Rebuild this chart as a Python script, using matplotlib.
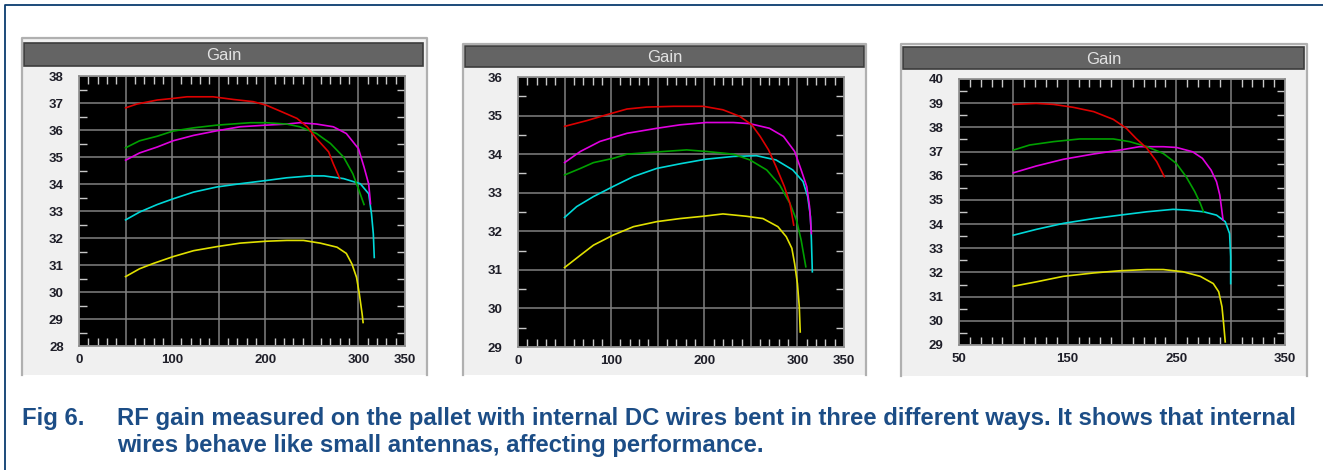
import matplotlib
matplotlib.use('Agg')
import matplotlib.pyplot as plt
from matplotlib.patches import Rectangle
from matplotlib.ticker import MultipleLocator

plt.rcParams['font.family'] = ['Liberation Sans', 'DejaVu Sans']

# ---- panel 1 (x 0..350, y 28..38) ----
p1_red_x = [50, 62, 84, 101, 116, 144, 166, 187, 201, 216, 234, 245, 255, 268, 273, 280]
p1_red_y = [36.82, 36.96, 37.11, 37.17, 37.23, 37.23, 37.13, 37.05, 36.92, 36.70, 36.43, 36.12, 35.68, 35.19, 34.75, 34.20]
p1_green_x = [50, 65, 84, 101, 123, 148, 184, 201, 223, 237, 255, 270, 284, 294, 300, 306]
p1_green_y = [35.34, 35.60, 35.77, 35.96, 36.08, 36.18, 36.27, 36.27, 36.22, 36.12, 35.87, 35.50, 35.00, 34.38, 33.82, 33.24]
p1_magenta_x = [50, 65, 84, 101, 123, 148, 173, 201, 223, 237, 255, 273, 287, 300, 306, 311, 313]
p1_magenta_y = [34.88, 35.15, 35.37, 35.60, 35.80, 35.97, 36.12, 36.18, 36.22, 36.27, 36.22, 36.12, 35.87, 35.31, 34.63, 34.00, 33.27]
p1_cyan_x = [50, 65, 84, 101, 123, 148, 173, 201, 223, 248, 263, 284, 302, 311, 314, 316, 317]
p1_cyan_y = [32.67, 32.96, 33.24, 33.45, 33.70, 33.89, 34.01, 34.13, 34.23, 34.30, 34.30, 34.20, 34.01, 33.64, 32.90, 32.15, 31.28]
p1_yellow_x = [50, 65, 80, 101, 123, 148, 173, 201, 223, 241, 259, 277, 287, 293, 298, 301, 304, 305]
p1_yellow_y = [30.57, 30.86, 31.06, 31.31, 31.53, 31.68, 31.81, 31.88, 31.91, 31.91, 31.81, 31.66, 31.43, 31.04, 30.54, 29.92, 29.18, 28.87]

# ---- panel 2 (x 0..350, y 29..36) ----
p2_red_x = [50, 74, 95, 117, 138, 167, 199, 220, 238, 251, 260, 269, 277, 286, 292, 296]
p2_red_y = [34.72, 34.87, 35.02, 35.17, 35.22, 35.24, 35.24, 35.15, 34.98, 34.76, 34.46, 34.11, 33.68, 33.16, 32.72, 32.16]
p2_magenta_x = [50, 67, 88, 117, 149, 174, 202, 231, 249, 270, 285, 297, 304, 310, 313, 315]
p2_magenta_y = [33.78, 34.07, 34.33, 34.54, 34.67, 34.76, 34.82, 34.82, 34.79, 34.67, 34.46, 34.07, 33.59, 33.16, 32.64, 31.94]
p2_green_x = [50, 67, 81, 102, 117, 145, 181, 202, 231, 249, 267, 281, 292, 299, 304, 309]
p2_green_y = [33.46, 33.63, 33.78, 33.89, 34.00, 34.05, 34.11, 34.07, 34.00, 33.85, 33.59, 33.20, 32.72, 32.29, 31.77, 31.08]
p2_cyan_x = [50, 63, 81, 102, 124, 149, 174, 202, 231, 256, 277, 295, 306, 311, 314, 315, 316]
p2_cyan_y = [32.36, 32.64, 32.90, 33.16, 33.42, 33.63, 33.75, 33.87, 33.94, 33.96, 33.85, 33.59, 33.29, 32.90, 32.38, 31.77, 30.95]
p2_yellow_x = [50, 67, 81, 102, 124, 149, 174, 199, 220, 245, 263, 279, 288, 294, 297, 300, 302, 303]
p2_yellow_y = [31.06, 31.38, 31.64, 31.90, 32.12, 32.25, 32.33, 32.39, 32.45, 32.39, 32.33, 32.12, 31.86, 31.56, 31.16, 30.64, 30.04, 29.39]

# ---- panel 3 (x 50..350, y 29..40) ----
p3_red_x = [100, 121, 137, 155, 174, 192, 204, 213, 223, 232, 239]
p3_red_y = [38.95, 38.99, 38.95, 38.83, 38.65, 38.33, 37.96, 37.54, 37.13, 36.58, 35.96]
p3_green_x = [100, 115, 137, 161, 192, 207, 223, 238, 250, 259, 267, 272, 275]
p3_green_y = [37.06, 37.27, 37.41, 37.52, 37.52, 37.41, 37.20, 36.92, 36.51, 35.96, 35.34, 34.86, 34.51]
p3_magenta_x = [100, 121, 146, 174, 198, 216, 238, 250, 265, 274, 282, 287, 290, 291, 293]
p3_magenta_y = [36.12, 36.40, 36.68, 36.90, 37.06, 37.20, 37.20, 37.17, 36.99, 36.72, 36.23, 35.75, 35.20, 34.86, 34.17]
p3_cyan_x = [100, 121, 146, 174, 198, 223, 247, 259, 275, 287, 295, 299, 300, 300]
p3_cyan_y = [33.54, 33.78, 34.03, 34.23, 34.37, 34.51, 34.61, 34.58, 34.51, 34.37, 34.10, 33.61, 32.65, 31.54]
p3_yellow_x = [100, 121, 146, 174, 198, 223, 238, 256, 272, 284, 289, 292, 293.5, 295]
p3_yellow_y = [31.43, 31.61, 31.84, 31.98, 32.07, 32.12, 32.12, 32.03, 31.84, 31.54, 31.20, 30.58, 29.89, 29.13]

COLORS = {'red': '#dd0000', 'green': '#00a000', 'magenta': '#e000e0',
          'cyan': '#00d8d8', 'yellow': '#e0e000'}

caption_1 = 'RF gain measured on the pallet with internal DC wires bent in three different ways. It shows that internal'
caption_2 = 'wires behave like small antennas, affecting performance.'

W, H = 1323, 470
fig = plt.figure(figsize=(W / 100, H / 100), dpi=100)
fig.patch.set_facecolor('white')

# background layer in pixel coordinates
bg = fig.add_axes([0, 0, 1, 1])
bg.set_xlim(0, W)
bg.set_ylim(H, 0)
bg.axis('off')

# outer blue frame (left and top)
bg.plot([5, 5, W], [H, 5, 5], color='#0b3d6f', lw=1.3)

# panel boxes: (left, top, right, bottom), title bar (left, top, right, bottom)
panels = [
    ((22, 38, 427, 375), (24, 43, 423, 66)),
    ((463, 44, 866, 375), (465, 46, 864, 67)),
    ((901, 44, 1307, 376), (903, 47, 1304, 69)),
]
for (l, t, r, b), (bl, bt, br, bb) in panels:
    bg.add_patch(Rectangle((l, t), r - l, b - t, facecolor='#f0f0f0', edgecolor='none'))
    bg.plot([l, l, r, r], [b, t, t, b], color='#b0b0b0', lw=1.6)
    bg.add_patch(Rectangle((bl, bt), br - bl, bb - bt, facecolor='#646464',
                           edgecolor='#3c3c3c', lw=1.2))
    bg.text((bl + br) / 2, (bt + bb) / 2 + 1, 'Gain', ha='center', va='center',
            color='#e2e2e2', fontsize=12)

# caption
cap_color = '#1c4d86'
cap_kw = dict(color=cap_color, fontsize=17.2, fontweight='bold', va='baseline')
bg.text(22, 425, 'Fig 6.', **cap_kw)
bg.text(117, 425, caption_1, **cap_kw)
bg.text(117, 452, caption_2, **cap_kw)


def make_axes(left, top, right, bottom):
    return fig.add_axes([left / W, 1 - bottom / H, (right - left) / W, (bottom - top) / H])


def draw_panel(ax, curves, xlim, ylim, xticks, xlabels):
    ax.set_facecolor('black')
    for x, y, c in curves:
        ax.plot(x, y, color=COLORS[c], lw=1.2)
    ax.set_xlim(*xlim)
    ax.set_ylim(*ylim)
    ax.set_xticks(xticks)
    ax.set_xticklabels(xlabels)
    ax.set_yticks(range(ylim[0], ylim[1] + 1))
    ax.xaxis.set_minor_locator(MultipleLocator(10))
    ax.yaxis.set_minor_locator(MultipleLocator(0.5))
    ax.grid(True, which='major', color='#808080', lw=1.1)
    ax.set_axisbelow(True)
    ax.tick_params(which='major', length=0, labelsize=9.5, labelcolor='#1e1e28')
    ax.tick_params(axis='y', which='major', pad=11)
    ax.tick_params(axis='x', which='major', pad=6)
    ax.tick_params(which='minor', direction='in', length=6, width=1, color='#c8c8c8',
                   top=True, right=True, bottom=True, left=True)
    for lab in ax.get_xticklabels() + ax.get_yticklabels():
        lab.set_fontweight('bold')
    for s in ax.spines.values():
        s.set_color('#8c8c8c')
        s.set_linewidth(1.2)


ax1 = make_axes(79, 76, 405, 346)
draw_panel(ax1, [(p1_yellow_x, p1_yellow_y, 'yellow'), (p1_cyan_x, p1_cyan_y, 'cyan'),
                 (p1_magenta_x, p1_magenta_y, 'magenta'), (p1_green_x, p1_green_y, 'green'),
                 (p1_red_x, p1_red_y, 'red')],
           (0, 350), (28, 38), range(0, 351, 50),
           ['0', '', '100', '', '200', '', '300', '350'])

ax2 = make_axes(518, 77, 844, 347)
draw_panel(ax2, [(p2_yellow_x, p2_yellow_y, 'yellow'), (p2_cyan_x, p2_cyan_y, 'cyan'),
                 (p2_green_x, p2_green_y, 'green'), (p2_magenta_x, p2_magenta_y, 'magenta'),
                 (p2_red_x, p2_red_y, 'red')],
           (0, 350), (29, 36), range(0, 351, 50),
           ['0', '', '100', '', '200', '', '300', '350'])

ax3 = make_axes(959, 79, 1285, 345)
draw_panel(ax3, [(p3_yellow_x, p3_yellow_y, 'yellow'), (p3_cyan_x, p3_cyan_y, 'cyan'),
                 (p3_magenta_x, p3_magenta_y, 'magenta'), (p3_green_x, p3_green_y, 'green'),
                 (p3_red_x, p3_red_y, 'red')],
           (50, 350), (29, 40), range(50, 351, 50),
           ['50', '', '150', '', '250', '', '350'])

fig.savefig('out.png', dpi=100)
